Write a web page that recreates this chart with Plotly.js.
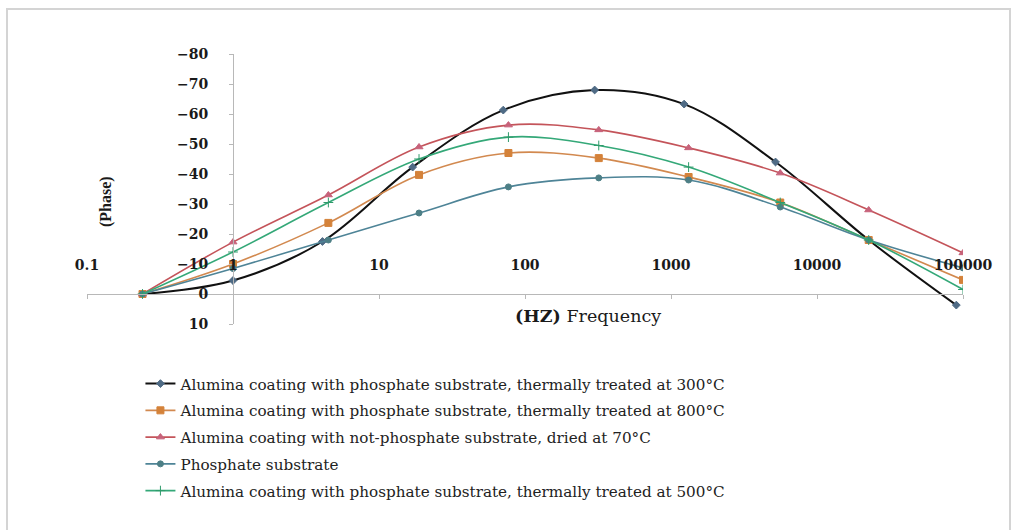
<!DOCTYPE html>
<html>
<head>
<meta charset="utf-8">
<script src="https://cdn.plot.ly/plotly-3.0.1.min.js"></script>
<style>html,body{margin:0;padding:0;background:#fff;}#chart{width:1016px;height:530px;}</style>
</head>
<body>
<div id="chart"></div>
<script>
// Frequencies (Hz)
const freq300 = [0.24, 1, 4.1, 17, 71, 300, 1230, 5200, 22600, 90000];
const freqOther = [0.24, 1, 4.5, 18.8, 77, 320, 1320, 5600, 22600, 100000];

// Phase values (degrees)
const phase300 = [0, -4.5, -17.5, -42.3, -61.3, -68, -63.3, -44, -18, 3.7];
const phase800 = [0, -10, -23.7, -39.7, -47, -45.3, -39, -30.5, -18, -4.7];
const phase70 = [0, -17.3, -33, -49, -56.3, -54.7, -48.7, -40.3, -28, -13.7];
const phaseSubstrate = [0, -8.5, -18, -27, -35.7, -38.7, -38, -29, -18, -8.7];
const phase500 = [0, -14, -30.5, -45, -52.3, -49.5, -42.3, -30.5, -18, -1.5];

const seriesNames = [
  "Alumina coating with phosphate substrate, thermally treated at 300°C",
  "Alumina coating with phosphate substrate, thermally treated at 800°C",
  "Alumina coating with not-phosphate substrate, dried at 70°C",
  "Phosphate substrate",
  "Alumina coating with phosphate substrate, thermally treated at 500°C"
];

const xTickVals = [0.1, 1, 10, 100, 1000, 10000, 100000];
const xTickText = ["0.1", "1", "10", "100", "1000", "10000", "100000"];
const yTickVals = [-80, -70, -60, -50, -40, -30, -20, -10, 0, 10];

function tr(x, y, name, lineColor, lw, sym, msize, mcolor, grp) {
  return {
    x: x, y: y, name: name, type: 'scatter', mode: 'lines+markers',
    line: {color: lineColor, width: lw, shape: 'spline', smoothing: 1},
    marker: {symbol: sym, size: msize, color: mcolor, line: {color: mcolor, width: 1}},
    legendgroup: grp
  };
}

const data = [
  tr(freq300, phase300, seriesNames[0], '#111111', 2, 'diamond', 6, '#4f6b85', 'g1'),
  tr(freqOther, phase800, seriesNames[1], '#d2894f', 1.6, 'square', 7, '#d4823a', 'g2'),
  tr(freqOther, phase70, seriesNames[2], '#c4545a', 1.6, 'triangle-up', 7, '#c7627a', 'g3'),
  tr(freqOther, phaseSubstrate, seriesNames[3], '#4e8497', 1.6, 'circle', 6, '#4d7f86', 'g4'),
  tr(freqOther, phase500, seriesNames[4], '#34a878', 1.6, 'cross-thin', 7, '#2f9a6a', 'g5'),
  // carrier for the tick-label axis (no visible marks)
  {x: [], y: [], type: 'scatter', mode: 'markers', xaxis: 'x2', yaxis: 'y', showlegend: false, hoverinfo: 'skip'}
];

const tickFont = {family: 'DejaVu Serif, serif', size: 14, color: '#1a1a1a', weight: 'bold'};

const layout = {
  width: 1016, height: 530,
  margin: {l: 87, r: 53, t: 54, b: 206},
  paper_bgcolor: '#ffffff', plot_bgcolor: '#ffffff',
  showlegend: true,
  legend: {
    x: 0.061, y: -0.16, xanchor: 'left', yanchor: 'top',
    font: {family: 'DejaVu Serif, serif', size: 15.2, color: '#222'},
    traceorder: 'grouped', tracegroupgap: 4,
    bgcolor: 'rgba(0,0,0,0)'
  },
  xaxis: {
    type: 'log', range: [-1, 5],
    anchor: 'free', position: 10/90,
    showgrid: false, zeroline: false,
    showline: true, linecolor: '#b8b8b8', linewidth: 1,
    ticks: 'outside', ticklen: 4, tickcolor: '#b8b8b8',
    tickvals: xTickVals, showticklabels: false
  },
  xaxis2: {
    type: 'log', range: [-1, 5], overlaying: 'x', matches: 'x',
    anchor: 'free', position: 0.255,
    showgrid: false, zeroline: false, showline: false, ticks: '',
    tickvals: xTickVals, ticktext: xTickText,
    tickfont: tickFont
  },
  yaxis: {
    range: [10, -80],
    anchor: 'free', position: 1/6,
    showgrid: false, zeroline: false,
    showline: true, linecolor: '#b8b8b8', linewidth: 1,
    ticks: 'outside', ticklen: 4, tickcolor: '#b8b8b8',
    tickvals: yTickVals,
    ticklabelstandoff: 18,
    tickfont: tickFont
  },
  annotations: [
    {text: '(Phase)', xref: 'paper', yref: 'paper', x: (106-87)/876, y: (324-202)/270,
     showarrow: false, textangle: -90, xanchor: 'center', yanchor: 'middle',
     font: {family: 'Liberation Serif, Times New Roman, serif', size: 16, color: '#1a1a1a', weight: 'bold'}},
    {text: '<b>(HZ)</b> Frequency', xref: 'paper', yref: 'paper', x: (588-87)/876, y: (324-316)/270,
     showarrow: false, xanchor: 'center', yanchor: 'middle',
     font: {family: 'DejaVu Serif, serif', size: 17.5, color: '#1a1a1a'}}
  ],
  shapes: [
    {type: 'rect', xref: 'paper', yref: 'paper', x0: (7-87)/876, x1: (1010-87)/876,
     y0: (324-540)/270, y1: (324-9)/270, line: {color: '#d4d4d4', width: 2}, layer: 'below'}
  ]
};

Plotly.newPlot('chart', data, layout, {displayModeBar: false, staticPlot: true});
</script>
</body>
</html>
